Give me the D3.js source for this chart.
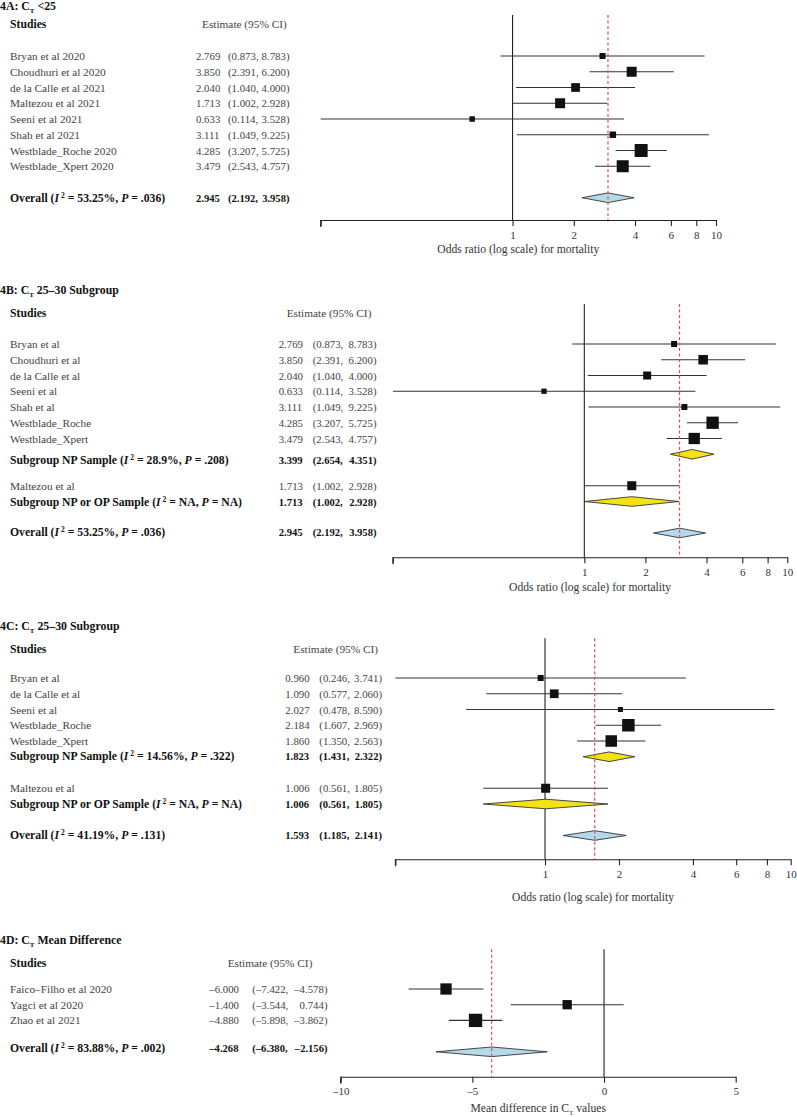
<!DOCTYPE html>
<html><head><meta charset="utf-8">
<script src="https://cdnjs.cloudflare.com/ajax/libs/d3/7.8.5/d3.min.js"></script>
<style>
body{margin:0;background:#fff}
svg{display:block}
text{font-family:"Liberation Serif","Times New Roman",serif}
</style>
</head><body>
<svg id="c" width="797" height="1117"></svg>
<script>
// ---------- Panel 4A: CT < 25 ----------
const studiesA = ["Bryan et al 2020","Choudhuri et al 2020","de la Calle et al 2021","Maltezou et al 2021","Seeni et al 2021","Shah et al 2021","Westblade_Roche 2020","Westblade_Xpert 2020"];
const estA  = [2.769, 3.850, 2.040, 1.713, 0.633, 3.111, 4.285, 3.479];
const lowA  = [0.873, 2.391, 1.040, 1.002, 0.114, 1.049, 3.207, 2.543];
const highA = [8.783, 6.200, 4.000, 2.928, 3.528, 9.225, 5.725, 4.757];
const weightA = [5.2, 14.3, 10.9, 14.3, 4.3, 6.0, 24.2, 20.7];
const overallA = [2.945, 2.192, 3.958];
const overallStatsA = ["53.25%", ".036"];

// ---------- Panel 4B: CT 25-30 subgroup ----------
const studiesB = ["Bryan et al","Choudhuri et al","de la Calle et al","Seeni et al","Shah et al","Westblade_Roche","Westblade_Xpert"];
const estB  = [2.769, 3.850, 2.040, 0.633, 3.111, 4.285, 3.479];
const lowB  = [0.873, 2.391, 1.040, 0.114, 1.049, 3.207, 2.543];
const highB = [8.783, 6.200, 4.000, 3.528, 9.225, 5.725, 4.757];
const weightB = [5.2, 13.0, 9.2, 4.0, 5.2, 21.7, 18.3];
const subNPB = [3.399, 2.654, 4.351];
const subNPStatsB = ["28.9%", ".208"];
const studiesB2 = ["Maltezou et al"];
const estB2 = [1.713], lowB2 = [1.002], highB2 = [2.928], weightB2 = [11.6];
const subNPOPB = [1.713, 1.002, 2.928];
const subNPOPStatsB = ["NA", "NA"];
const overallB = [2.945, 2.192, 3.958];
const overallStatsB = ["53.25%", ".036"];

// ---------- Panel 4C ----------
const studiesC = ["Bryan et al","de la Calle et al","Seeni et al","Westblade_Roche","Westblade_Xpert"];
const estC  = [0.960, 1.090, 2.027, 2.184, 1.860];
const lowC  = [0.246, 0.577, 0.478, 1.607, 1.350];
const highC = [3.741, 2.060, 8.590, 2.969, 2.563];
const weightC = [5.2, 10.9, 3.6, 22.4, 19.0];
const subNPC = [1.823, 1.431, 2.322];
const subNPStatsC = ["14.56%", ".322"];
const studiesC2 = ["Maltezou et al"];
const estC2 = [1.006], lowC2 = [0.561], highC2 = [1.805], weightC2 = [11.6];
const subNPOPC = [1.006, 0.561, 1.805];
const subNPOPStatsC = ["NA", "NA"];
const overallC = [1.593, 1.185, 2.141];
const overallStatsC = ["41.19%", ".131"];

// ---------- Panel 4D: CT mean difference ----------
const studiesD = ["Faico–Filho et al 2020","Yagci et al 2020","Zhao et al 2021"];
const estD  = [-6.000, -1.400, -4.880];
const lowD  = [-7.422, -3.544, -5.898];
const highD = [-4.578, 0.744, -3.862];
const weightD = [18.3, 12.4, 25.4];
const overallD = [-4.268, -6.380, -2.156];
const overallStatsD = ["83.88%", ".002"];

const orTicks = [1, 2, 4, 6, 8, 10];
const mdTicks = [-10, -5, 0, 5];

// ---------------------------------------------------------
const svg = d3.select("#c");
const sizeScale = d3.scaleSqrt().domain([0, 100]).range([0, 26.4]);
const fmt = v => (v < 0 ? "–" : "") + Math.abs(v).toFixed(3);
const FS = 11.3, FSB = 11.7, FN = 10.8, FNB = 10.6;

function studyRows(names, est, lo, hi, w, start) {
  return names.map((n, i) => ({kind: "study", label: n, est: est[i], lo: lo[i], hi: hi[i], w: w[i], idx: start + i}));
}
function sumRow(kind, name, vals, stats, idx, shift) {
  return {kind, label: name, est: vals[0], lo: vals[1], hi: vals[2], stats, idx, shift: shift || 0};
}

function drawPanel(cfg) {
  const g = svg.append("g");
  const x = cfg.x;
  const y = d3.scaleLinear().domain([0, 1]).range([cfg.y0, cfg.y0 + cfg.step]);

  // title
  const t = g.append("text").attr("x", 0).attr("y", cfg.titleY + 4)
    .attr("font-weight", "bold").attr("font-size", 11.8).attr("fill", "#111");
  t.append("tspan").text(cfg.titlePre);
  t.append("tspan").attr("font-size", 7).attr("dy", 3).text("T");
  t.append("tspan").attr("dy", -3).text(cfg.titlePost);

  // column headers
  g.append("text").attr("x", 10).attr("y", cfg.headY + 4).attr("font-size", FSB)
    .attr("font-weight", "bold").attr("fill", "#111").text("Studies");
  g.append("text").attr("x", cfg.colHead).attr("y", cfg.headY + 4).attr("font-size", FS)
    .attr("fill", "#444").text("Estimate (95% CI)");

  // null line
  g.append("line").attr("x1", x(cfg.nullVal)).attr("x2", x(cfg.nullVal))
    .attr("y1", cfg.topY).attr("y2", cfg.axisY).attr("stroke", "#222").attr("stroke-width", 1.1);

  // axis
  const ax = d3.axisBottom(x).tickValues(cfg.ticks).tickFormat(cfg.tickFmt)
    .tickSize(6).tickSizeOuter(0).tickPadding(5);
  const axg = g.append("g").attr("transform", `translate(0,${cfg.axisY})`).call(ax);
  axg.select(".domain").attr("stroke", "#222").attr("stroke-width", 1.1);
  axg.selectAll(".tick line").attr("stroke", "#222").attr("stroke-width", 1.1);
  axg.selectAll(".tick text").attr("font-size", 11).attr("fill", "#333")
    .attr("font-family", "Liberation Serif, serif");
  // left end tick
  const x0 = x.range()[0];
  g.append("line").attr("x1", x0).attr("x2", x0).attr("y1", cfg.axisY).attr("y2", cfg.axisY + 7)
    .attr("stroke", "#222").attr("stroke-width", 1.1);

  // axis title
  const xm = (x.range()[0] + x.range()[1]) / 2;
  const at = g.append("text").attr("x", xm).attr("y", cfg.axisY + cfg.titleOff)
    .attr("text-anchor", "middle").attr("font-size", 11.6).attr("fill", "#333");
  if (cfg.axisTitleSub) {
    at.append("tspan").text(cfg.axisTitle[0]);
    at.append("tspan").attr("font-size", 7).attr("dy", 3).text("T");
    at.append("tspan").attr("dy", -3).text(cfg.axisTitle[1]);
  } else {
    at.text(cfg.axisTitle);
  }

  // rows
  cfg.rows.forEach(r => {
    const yy = y(r.idx);
    const isStudy = r.kind === "study";
    if (isStudy) {
      g.append("line").attr("x1", x(r.lo)).attr("x2", x(r.hi)).attr("y1", yy).attr("y2", yy)
        .attr("stroke", "#333").attr("stroke-width", 1.1);
      const s = sizeScale(r.w);
      g.append("rect").attr("x", x(r.est) - s / 2).attr("y", yy - s / 2)
        .attr("width", s).attr("height", s).attr("fill", "#111");
    } else {
      const h = 4.8;
      const pts = [[x(r.lo), yy], [x(r.est), yy - h], [x(r.hi), yy], [x(r.est), yy + h]];
      g.append("polygon").attr("points", pts.map(p => p.join(",")).join(" "))
        .attr("fill", r.kind === "overall" ? "#b3d9ea" : "#f6e214")
        .attr("stroke", "#333").attr("stroke-width", 0.9);
    }
    const ty = yy + 4 + (r.shift || 0);
    const weight = isStudy ? "normal" : "bold";
    const col = isStudy ? "#444" : "#111";
    const fs = isStudy ? FS : FSB;
    const fn = isStudy ? FN : FNB;
    const lt = g.append("text").attr("x", 10).attr("y", ty).attr("font-size", fs)
      .attr("fill", col).attr("font-weight", weight);
    if (isStudy) {
      lt.text(r.label);
    } else {
      lt.append("tspan").text(r.label + " (");
      lt.append("tspan").attr("font-style", "italic").text("I");
      lt.append("tspan").attr("font-size", 7.5).attr("dy", -4).attr("dx", 2).text("2");
      lt.append("tspan").attr("dy", 4).text(" = " + r.stats[0] + ", ");
      lt.append("tspan").attr("font-style", "italic").text("P");
      lt.append("tspan").text(" = " + r.stats[1] + ")");
    }
    g.append("text").attr("x", cfg.colEst).attr("y", ty).attr("font-size", fn)
      .attr("fill", col).attr("font-weight", weight).text(fmt(r.est));
    g.append("text").attr("x", cfg.colLo).attr("y", ty).attr("font-size", fn)
      .attr("fill", col).attr("font-weight", weight).text("(" + fmt(r.lo) + ",");
    g.append("text").attr("x", cfg.colHi).attr("y", ty).attr("font-size", fn).attr("text-anchor", "end")
      .attr("fill", col).attr("font-weight", weight).text(fmt(r.hi) + ")");
  });

  // pooled estimate dashed line
  g.append("line").attr("x1", x(cfg.pooled)).attr("x2", x(cfg.pooled))
    .attr("y1", cfg.topY).attr("y2", cfg.axisY)
    .attr("stroke", "#d9534f").attr("stroke-width", 1.2).attr("stroke-dasharray", "3,2.5");
}

const orFmt = d => (orTicks.includes(d) ? d : "");

// Panel A
drawPanel({
  x: d3.scaleLog().domain([d3.min(lowA), 10]).range([320.7, 716]),
  titlePre: "4A: C", titlePost: " <25", titleY: 6, headY: 24,
  colHead: 202, colEst: 196, colLo: 228, colHi: 289.5,
  y0: 56, step: 15.75, topY: 15, axisY: 220, titleOff: 33,
  nullVal: 1, pooled: overallA[0],
  ticks: [d3.min(lowA)].concat(orTicks), tickFmt: orFmt,
  axisTitle: "Odds ratio (log scale) for mortality",
  rows: studyRows(studiesA, estA, lowA, highA, weightA, 0)
    .concat([sumRow("overall", "Overall", overallA, overallStatsA, 9)])
});

// Panel B
drawPanel({
  x: d3.scaleLog().domain([d3.min(lowB), 10]).range([392.9, 787.3]),
  titlePre: "4B: C", titlePost: " 25–30 Subgroup", titleY: 290, headY: 313,
  colHead: 286.7, colEst: 278.7, colLo: 312.7, colHi: 376.5,
  y0: 344, step: 15.75, topY: 304, axisY: 557.3, titleOff: 33.5,
  nullVal: 1, pooled: overallB[0],
  ticks: [d3.min(lowB)].concat(orTicks), tickFmt: orFmt,
  axisTitle: "Odds ratio (log scale) for mortality",
  rows: studyRows(studiesB, estB, lowB, highB, weightB, 0)
    .concat([sumRow("sub", "Subgroup NP Sample", subNPB, subNPStatsB, 7, 6)])
    .concat(studyRows(studiesB2, estB2, lowB2, highB2, weightB2, 9))
    .concat([sumRow("sub", "Subgroup NP or OP Sample", subNPOPB, subNPOPStatsB, 10),
             sumRow("overall", "Overall", overallB, overallStatsB, 12, -1)])
});

// Panel C
drawPanel({
  x: d3.scaleLog().domain([d3.min(lowC), 10]).range([395.4, 790.7]),
  titlePre: "4C: C", titlePost: " 25–30 Subgroup", titleY: 625.7, headY: 649,
  colHead: 293.3, colEst: 285.3, colLo: 319.3, colHi: 382,
  y0: 678, step: 15.75, topY: 638.3, axisY: 859.3, titleOff: 42,
  nullVal: 1, pooled: overallC[0],
  ticks: [d3.min(lowC)].concat(orTicks), tickFmt: orFmt,
  axisTitle: "Odds ratio (log scale) for mortality",
  rows: studyRows(studiesC, estC, lowC, highC, weightC, 0)
    .concat([sumRow("sub", "Subgroup NP Sample", subNPC, subNPStatsC, 5, -1)])
    .concat(studyRows(studiesC2, estC2, lowC2, highC2, weightC2, 7))
    .concat([sumRow("sub", "Subgroup NP or OP Sample", subNPOPC, subNPOPStatsC, 8),
             sumRow("overall", "Overall", overallC, overallStatsC, 10, -1)])
});

// Panel D
drawPanel({
  x: d3.scaleLinear().domain([d3.min(mdTicks), d3.max(mdTicks)]).range([340.7, 735.7]),
  titlePre: "4D: C", titlePost: " Mean Difference", titleY: 940, headY: 962.7,
  colHead: 227.7, colEst: 209.3, colLo: 252.3, colHi: 327.5,
  y0: 989, step: 15.7, topY: 949.3, axisY: 1076.7, titleOff: 35,
  nullVal: 0, pooled: overallD[0],
  ticks: mdTicks, tickFmt: d => (d < 0 ? "–" + Math.abs(d) : String(d)),
  axisTitleSub: true, axisTitle: ["Mean difference in C", " values"],
  rows: studyRows(studiesD, estD, lowD, highD, weightD, 0)
    .concat([sumRow("overall", "Overall", overallD, overallStatsD, 4, -3.5)])
});
</script>
</body></html>
